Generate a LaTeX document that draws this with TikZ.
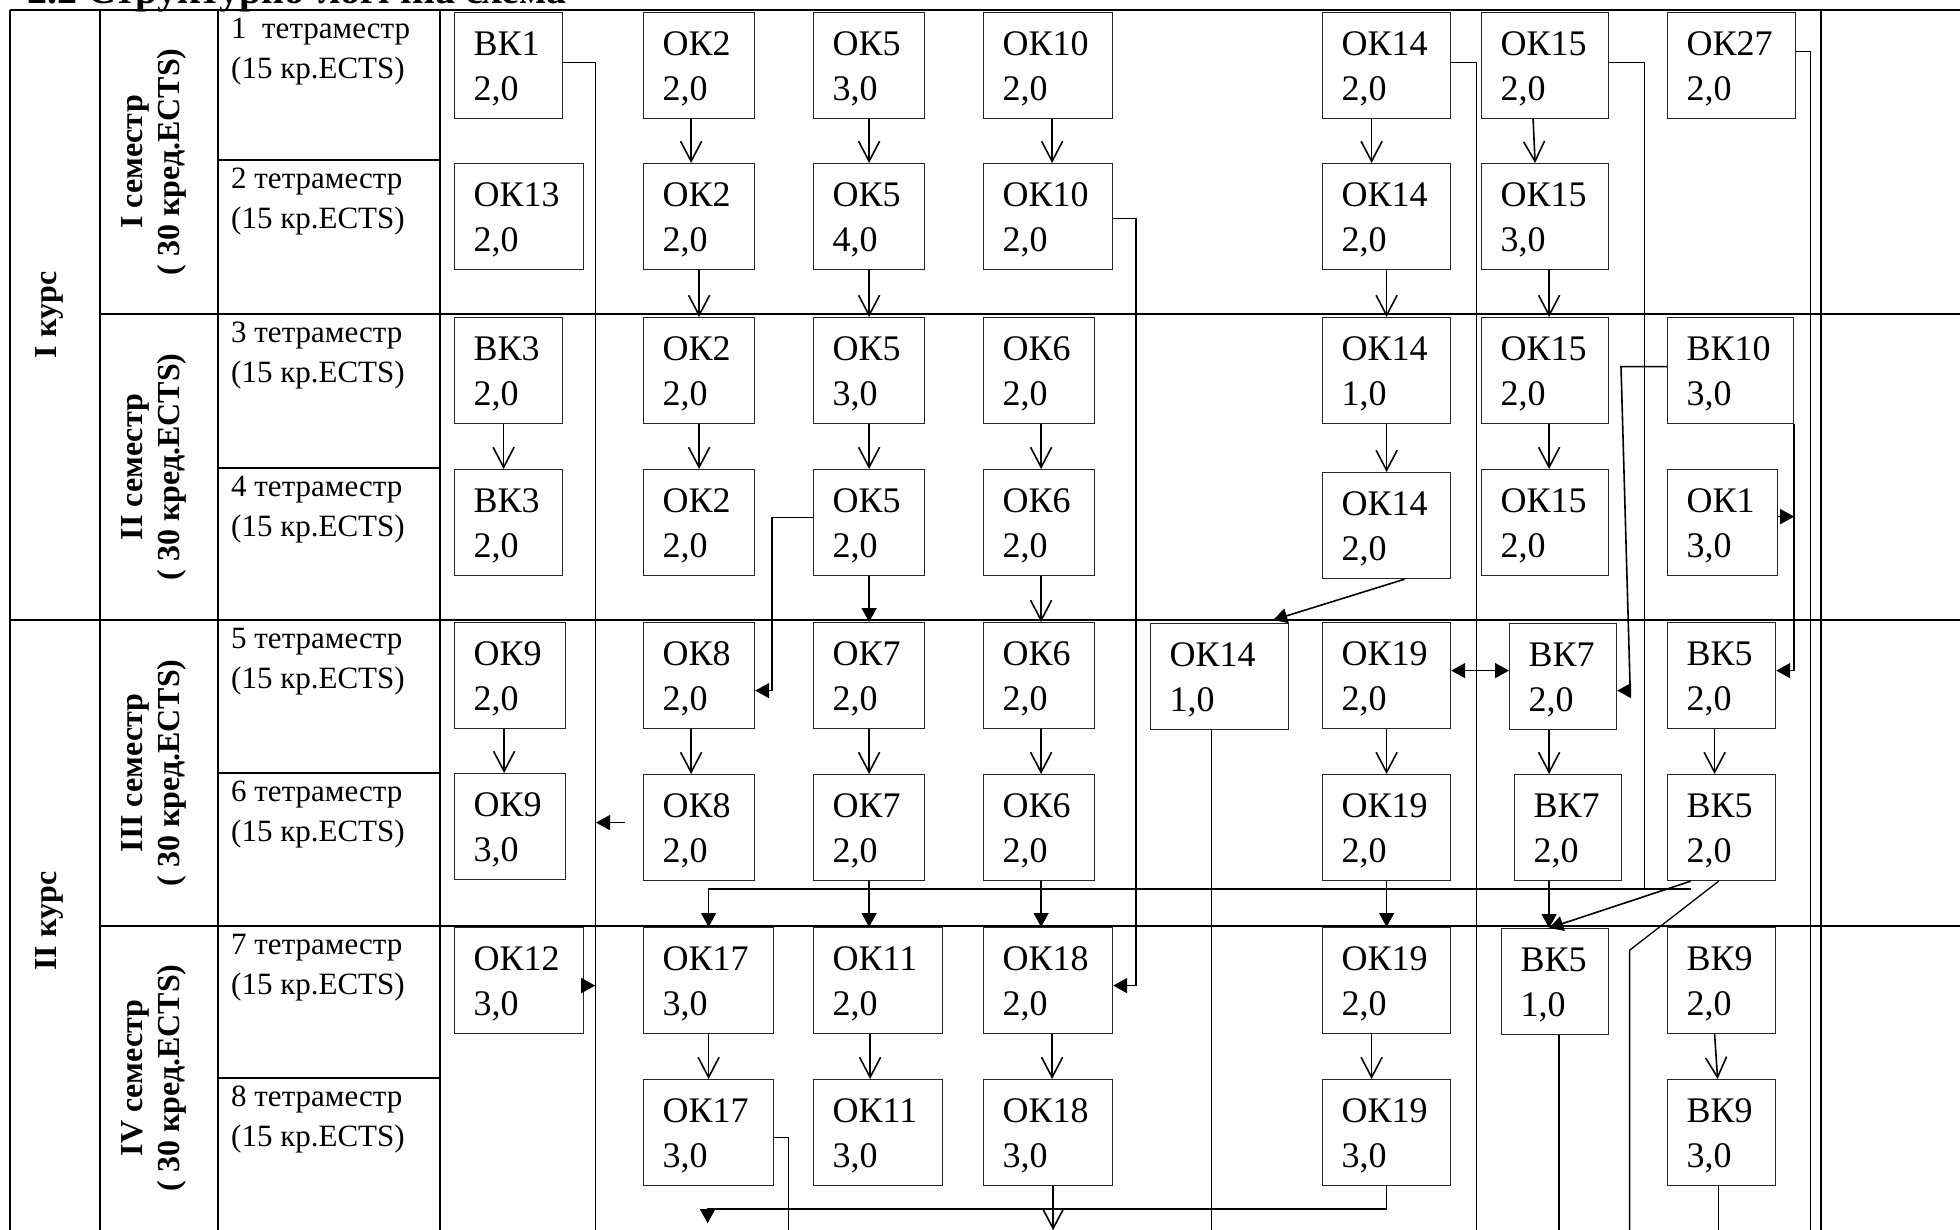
\documentclass[tikz,border=0pt]{standalone}
\usepackage{fontspec}
\setmainfont{Liberation Serif}
\usetikzlibrary{arrows.meta}
\newcommand{\boxfont}{\fontsize{36}{45}\selectfont}
\newcommand{\tetfont}{\fontsize{31}{40}\selectfont}
\newcommand{\semfont}{\bfseries\fontsize{32}{37}\selectfont}
\begin{document}
\begin{tikzpicture}[
x=1pt, y=-1pt,
grid/.style={line width=2pt},
box/.style={draw=black!85, line width=1.2pt, anchor=north west,
  minimum height=106pt, inner xsep=19pt, inner ysep=0pt,
  align=left, text width=#1pt, font=\boxfont,
  execute at begin node={\rule{0pt}{31pt}}},
tet/.style={anchor=north west, inner sep=0pt, align=left, font=\tetfont},
sem/.style={rotate=90, inner sep=0pt, align=center, font=\semfont},
link/.style={line width=1.3pt},
varr/.style={line width=1.6pt, -{Straight Barb[length=20pt,width=21pt]}},
farr/.style={line width=1.6pt, -{Triangle[length=14pt,width=15pt]}},
darr/.style={line width=1.6pt, {Triangle[length=14pt,width=15pt]}-{Triangle[length=14pt,width=15pt]}}
]
\useasboundingbox (0,0) rectangle (1960,1230);
\clip (0,0) rectangle (1960,1230);

% heading, cut by the page edge
\node[anchor=base west, inner sep=0pt, font=\bfseries\fontsize{40}{48}\selectfont] (title) at (27,4) {2.2 Структурно-логічна схема};

% table
\draw[grid] (10,10) -- (1960,10);
\draw[grid] (10,10) -- (10,1230) (100,10) -- (100,1230) (218,10) -- (218,1230)
  (440,10) -- (440,1230) (1821,10) -- (1821,1230);
\draw[grid] (100,314) -- (1960,314) (10,620) -- (1960,620) (100,926) -- (1960,926);
\draw[grid] (218,160) -- (440,160) (218,468) -- (440,468) (218,773) -- (440,773) (218,1078) -- (440,1078);

% courses and semesters
\node[sem] (kurs1) at (49,315) {I курс};
\node[sem] (kurs2) at (49,921) {II курс};
\node[sem] (sem1) at (154,162) {I семестр\\( 30 кред.ECTS)};
\node[sem] (sem2) at (154,467) {II семестр\\( 30 кред.ECTS)};
\node[sem] (sem3) at (154,773) {III семестр\\( 30 кред.ECTS)};
\node[sem] (sem4) at (154,1078) {IV семестр\\( 30 кред.ECTS)};

% tetramesters
\node[tet] (t1) at (231,18) {1\ \ тетраместр\\(15 кр.ECTS)};
\node[tet] (t2) at (231,168) {2 тетраместр\\(15 кр.ECTS)};
\node[tet] (t3) at (231,322) {3 тетраместр\\(15 кр.ECTS)};
\node[tet] (t4) at (231,476) {4 тетраместр\\(15 кр.ECTS)};
\node[tet] (t5) at (231,628) {5 тетраместр\\(15 кр.ECTS)};
\node[tet] (t6) at (231,781) {6 тетраместр\\(15 кр.ECTS)};
\node[tet] (t7) at (231,934) {7 тетраместр\\(15 кр.ECTS)};
\node[tet] (t8) at (231,1086) {8 тетраместр\\(15 кр.ECTS)};

% disciplines
\node[box=70] (bk1) at (454,12) {ВК1\\2,0};
\node[box=91] (ok13) at (454,163) {ОК13\\2,0};
\node[box=70] (bk3a) at (454,317) {ВК3\\2,0};
\node[box=70] (bk3b) at (454,469) {ВК3\\2,0};
\node[box=73] (ok9a) at (454,622) {ОК9\\2,0};
\node[box=73] (ok9b) at (454,773) {ОК9\\3,0};
\node[box=91] (ok12) at (454,927) {ОК12\\3,0};

\node[box=73] (ok2a) at (643,12) {ОК2\\2,0};
\node[box=73] (ok2b) at (643,163) {ОК2\\2,0};
\node[box=73] (ok2c) at (643,317) {ОК2\\2,0};
\node[box=73] (ok2d) at (643,469) {ОК2\\2,0};
\node[box=73] (ok8a) at (643,622) {ОК8\\2,0};
\node[box=73] (ok8b) at (643,774) {ОК8\\2,0};
\node[box=92] (ok17a) at (643,927) {ОК17\\3,0};
\node[box=92] (ok17b) at (643,1079) {ОК17\\3,0};

\node[box=73] (ok5a) at (813,12) {ОК5\\3,0};
\node[box=73] (ok5b) at (813,163) {ОК5\\4,0};
\node[box=73] (ok5c) at (813,317) {ОК5\\3,0};
\node[box=73] (ok5d) at (813,469) {ОК5\\2,0};
\node[box=73] (ok7a) at (813,622) {ОК7\\2,0};
\node[box=73] (ok7b) at (813,774) {ОК7\\2,0};
\node[box=91] (ok11a) at (813,927) {ОК11\\2,0};
\node[box=91] (ok11b) at (813,1079) {ОК11\\3,0};

\node[box=91] (ok10a) at (983,12) {ОК10\\2,0};
\node[box=91] (ok10b) at (983,163) {ОК10\\2,0};
\node[box=73] (ok6a) at (983,317) {ОК6\\2,0};
\node[box=73] (ok6b) at (983,469) {ОК6\\2,0};
\node[box=73] (ok6c) at (983,622) {ОК6\\2,0};
\node[box=73] (ok6d) at (983,774) {ОК6\\2,0};
\node[box=91] (ok18a) at (983,927) {ОК18\\2,0};
\node[box=91] (ok18b) at (983,1079) {ОК18\\3,0};

\node[box=100] (ok14e) at (1150,623) {ОК14\\1,0};

\node[box=90] (ok14a) at (1322,12) {ОК14\\2,0};
\node[box=90] (ok14b) at (1322,163) {ОК14\\2,0};
\node[box=90] (ok14c) at (1322,317) {ОК14\\1,0};
\node[box=90] (ok14d) at (1322,472) {ОК14\\2,0};
\node[box=90] (ok19a) at (1322,622) {ОК19\\2,0};
\node[box=90] (ok19b) at (1322,774) {ОК19\\2,0};
\node[box=90] (ok19c) at (1322,927) {ОК19\\2,0};
\node[box=90] (ok19d) at (1322,1079) {ОК19\\3,0};

\node[box=89] (ok15a) at (1481,12) {ОК15\\2,0};
\node[box=89] (ok15b) at (1481,163) {ОК15\\3,0};
\node[box=89] (ok15c) at (1481,317) {ОК15\\2,0};
\node[box=89] (ok15d) at (1481,469) {ОК15\\2,0};
\node[box=69] (bk7a) at (1509,623) {ВК7\\2,0};
\node[box=69] (bk7b) at (1514,774) {ВК7\\2,0};
\node[box=69] (bk5c) at (1501,928) {ВК5\\1,0};

\node[box=90] (ok27) at (1667,12) {ОК27\\2,0};
\node[box=88] (bk10) at (1667,317) {ВК10\\3,0};
\node[box=72] (ok1) at (1667,469) {ОК1\\3,0};
\node[box=70] (bk5a) at (1667,622) {ВК5\\2,0};
\node[box=70] (bk5b) at (1667,774) {ВК5\\2,0};
\node[box=70] (bk9a) at (1667,927) {ВК9\\2,0};
\node[box=70] (bk9b) at (1667,1079) {ВК9\\3,0};

% first column links
\draw[link] ([yshift=3pt]bk1.east) -- ++(32,0) -- ++(0,1200);
\draw[varr] ([xshift=-5pt]bk3a.south) -- ([xshift=-5pt]bk3b.north);
\draw[varr] ([xshift=-6pt]ok9a.south) -- ([xshift=-6pt]ok9b.north);
\draw[farr] ([yshift=-5pt]ok12.east) -- ++(11,0);
\draw[farr] ([xshift=-18pt,yshift=5pt]ok8b.west) -- ++(-29,0);

% OK2, OK8, OK17
\draw[varr] ([xshift=-8pt]ok2a.south) -- ([xshift=-8pt]ok2b.north);
\draw[varr] (ok2b.south) -- (ok2c.north);
\draw[varr] (ok2c.south) -- (ok2d.north);
\draw[farr] ([yshift=5pt]ok5d.west) -- ++(-41,0) |- ([yshift=-15pt]ok8a.east);
\draw[varr] ([xshift=-8pt]ok8a.south) -- ([xshift=-8pt]ok8b.north);
\draw[farr] ([xshift=-31pt,yshift=-8pt]bk5b.south) -| (ok17a.north);
\draw[varr] (ok17a.south) -- (ok17b.north);
\draw[link] ([yshift=-5pt]ok17b.east) -- ++(14,0) -- ++(0,120);
\draw[farr] (ok19d.south) -- ++(0,23) -- ++(-679,0) -- ++(0,14);

% OK5, OK7, OK11
\draw[varr] (ok5a.south) -- (ok5b.north);
\draw[varr] (ok5b.south) -- (ok5c.north);
\draw[varr] (ok5c.south) -- (ok5d.north);
\draw[farr] (ok5d.south) -- (ok7a.north);
\draw[varr] (ok7a.south) -- (ok7b.north);
\draw[farr] (ok7b.south) -- (ok7b.south |- ok11a.north);
\draw[varr] ([xshift=-8pt]ok11a.south) -- ([xshift=-8pt]ok11b.north);

% OK10, OK6, OK18
\draw[varr] ([xshift=4pt]ok10a.south) -- ([xshift=4pt]ok10b.north);
\draw[farr] ([yshift=-2pt]ok10b.east) -- ++(23,0) |- ([yshift=-5pt]ok18a.east);
\draw[varr] ([xshift=2pt]ok6a.south) -- ([xshift=2pt]ok6b.north);
\draw[varr] ([xshift=2pt]ok6b.south) -- ([xshift=2pt]ok6c.north);
\draw[varr] ([xshift=2pt]ok6c.south) -- ([xshift=2pt]ok6d.north);
\draw[farr] ([xshift=2pt]ok6d.south) -- ([xshift=2pt]ok6d.south |- ok18a.north);
\draw[varr] ([xshift=4pt]ok18a.south) -- ([xshift=4pt]ok18b.north);
\draw[varr] ([xshift=5pt]ok18b.south) -- ++(0,44);

% OK14, OK19
\draw[link] ([yshift=3pt]ok14a.east) -- ++(25,0) -- ++(0,1200);
\draw[varr] ([xshift=-15pt]ok14a.south) -- ([xshift=-15pt]ok14b.north);
\draw[varr] (ok14b.south) -- (ok14c.north);
\draw[varr] (ok14c.south) -- (ok14d.north);
\draw[farr] ([xshift=18pt]ok14d.south) -- ([xshift=-16pt,yshift=3pt]ok14e.north east);
\draw[link] ([xshift=-8pt]ok14e.south) -- ++(0,520);
\draw[darr] ([yshift=5pt]ok19a.east) -- ([yshift=6pt]bk7a.west);
\draw[varr] (ok19a.south) -- (ok19b.north);
\draw[farr] (ok19b.south) -- (ok19c.north);
\draw[varr] ([xshift=-15pt]ok19c.south) -- ([xshift=-15pt]ok19d.north);

% OK15, BK7
\draw[link] ([yshift=3pt]ok15a.east) -- ++(35,0) -- ++(0,827);
\draw[varr] ([xshift=-12pt]ok15a.south) -- ([xshift=-10pt]ok15b.north);
\draw[varr] ([xshift=4pt]ok15b.south) -- ([xshift=4pt]ok15c.north);
\draw[varr] ([xshift=4pt]ok15c.south) -- ([xshift=4pt]ok15d.north);
\draw[farr] ([yshift=4pt]bk10.west) -- ++(-46,0) -- ([xshift=13pt,yshift=-14pt]bk7a.east) -- ([yshift=-14pt]bk7a.east);
\draw[varr] ([xshift=-14pt]bk7a.south) -- ([xshift=-19pt]bk7b.north);
\draw[farr] ([xshift=-19pt]bk7b.south) -- ([xshift=-6pt]bk5c.north);
\draw[link] ([xshift=4pt]bk5c.south) -- ++(0,250);

% last column
\draw[link] ([yshift=14pt]ok27.east) -- ++(14,0) -- ++(0,1250);
\draw[farr] (bk10.south east) |- ([yshift=5pt]bk5a.east);
\draw[farr] ([yshift=6pt]ok1.east) -- ++(16,0);
\draw[varr] ([xshift=-7pt]bk5a.south) -- ([xshift=-7pt]bk5b.north);
\draw[farr] ([xshift=-31pt]bk5b.south) -- ([xshift=-6pt]bk5c.north);
\draw[link] ([xshift=-3pt]bk5b.south) -- ++(-89,69) -- ++(0,300);
\draw[varr] ([xshift=-7pt]bk9a.south) -- ([xshift=-4pt]bk9b.north);
\draw[link] ([xshift=-3pt]bk9b.south) -- ++(0,100);
\end{tikzpicture}
\end{document}
